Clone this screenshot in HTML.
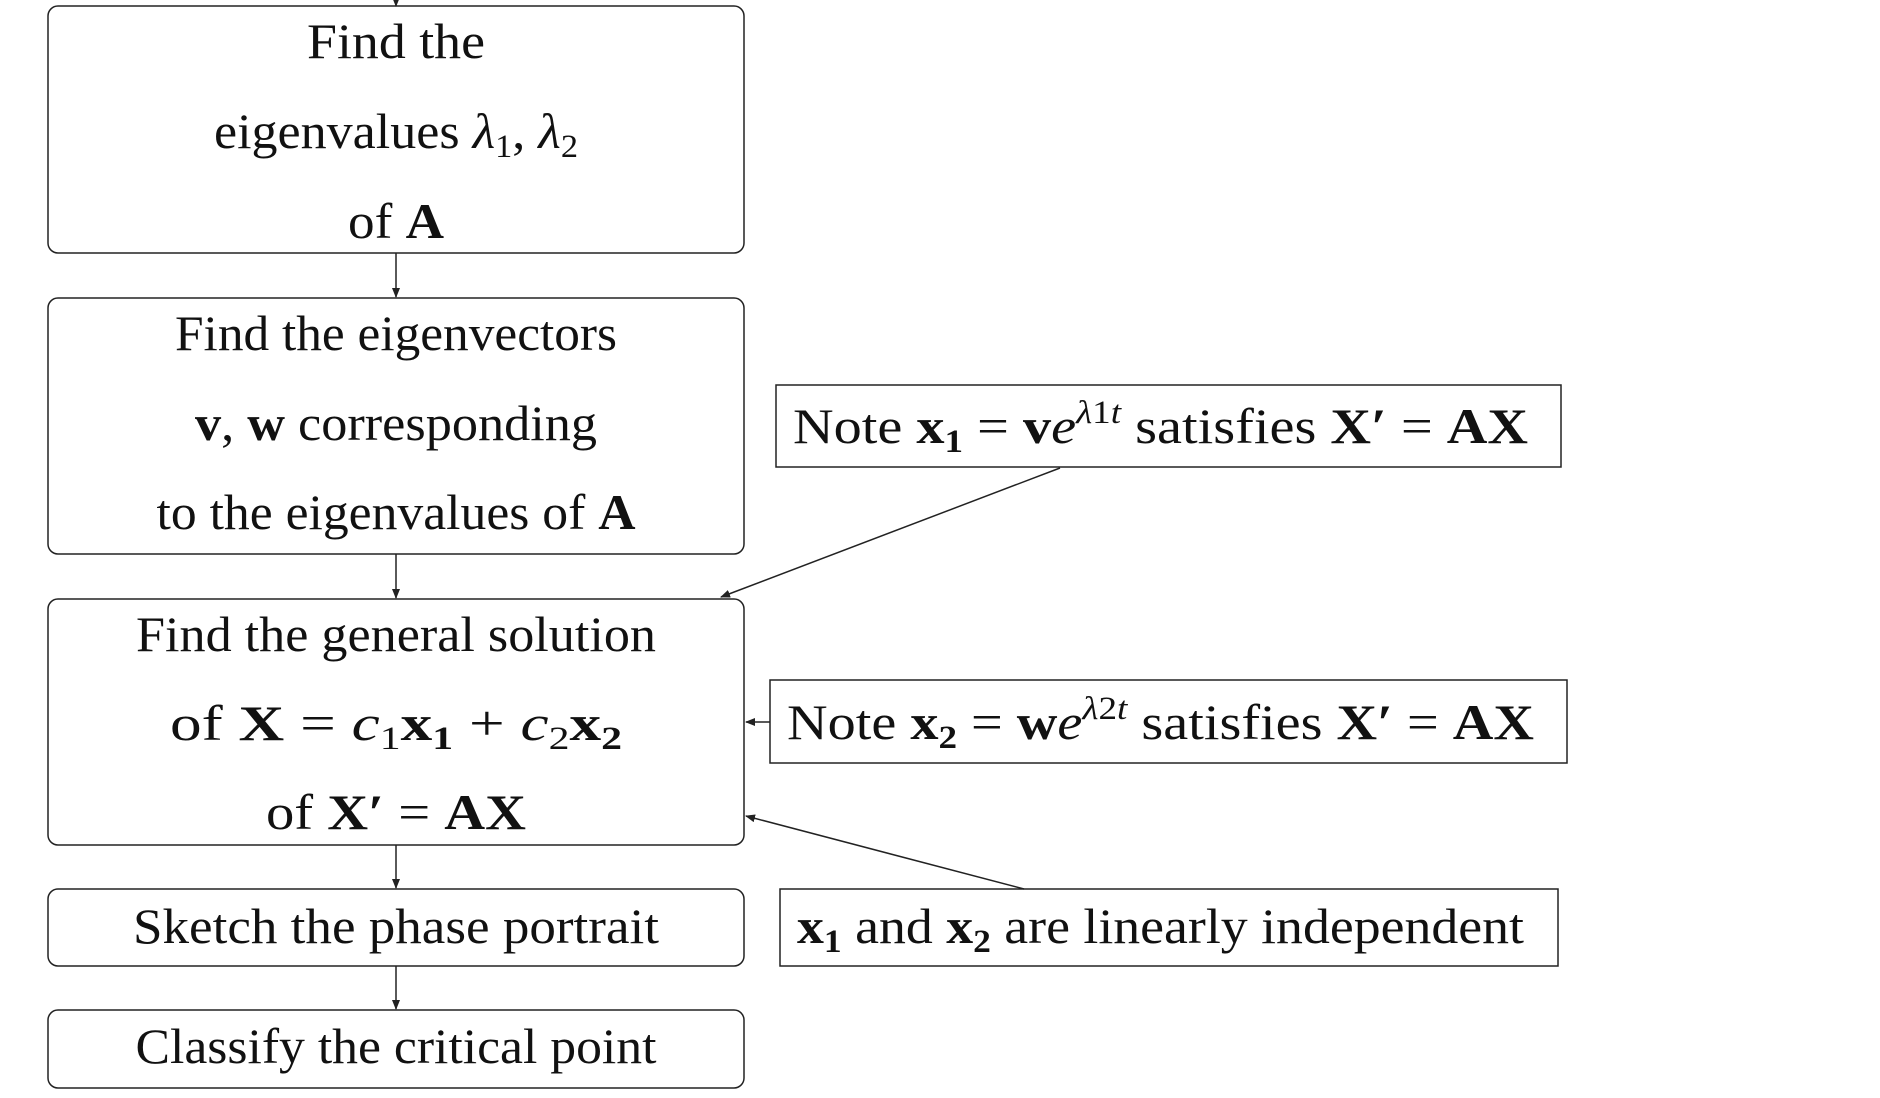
<!DOCTYPE html>
<html><head><meta charset="utf-8"><style>
html,body{margin:0;padding:0;background:#fff;}
svg{display:block;}
text{font-family:"Liberation Serif",serif;font-size:50px;fill:#111;}
.b{font-weight:bold;}
.i{font-style:italic;}
.s{font-size:33px;}
</style></head><body>
<svg width="1880" height="1098" viewBox="0 0 1880 1098" xmlns="http://www.w3.org/2000/svg">
<defs><marker id="a" markerWidth="10" markerHeight="8" refX="9" refY="4" orient="auto" markerUnits="userSpaceOnUse"><path d="M0,0 L10,4 L0,8 z" fill="#222"/></marker></defs>
<g fill="none" stroke="#222" stroke-width="1.5">
<rect x="48" y="6" width="696" height="247" rx="10"/>
<rect x="48" y="298" width="696" height="256" rx="10"/>
<rect x="48" y="599" width="696" height="246" rx="10"/>
<rect x="48" y="889" width="696" height="77" rx="10"/>
<rect x="48" y="1010" width="696" height="78" rx="10"/>
<rect x="776" y="385" width="785" height="82"/>
<rect x="770" y="680" width="797" height="83"/>
<rect x="780" y="889" width="778" height="77"/>
<line x1="396" y1="0" x2="396" y2="6" marker-end="url(#a)"/>
<line x1="396" y1="253" x2="396" y2="297" marker-end="url(#a)"/>
<line x1="396" y1="554" x2="396" y2="598" marker-end="url(#a)"/>
<line x1="396" y1="845" x2="396" y2="888" marker-end="url(#a)"/>
<line x1="396" y1="966" x2="396" y2="1009" marker-end="url(#a)"/>
<line x1="1060" y1="468" x2="721" y2="597" marker-end="url(#a)"/>
<line x1="770" y1="722" x2="746" y2="722" marker-end="url(#a)"/>
<line x1="1024" y1="889" x2="746" y2="816" marker-end="url(#a)"/>
</g>
<g text-anchor="middle">
<text x="396" y="58" textLength="178" lengthAdjust="spacingAndGlyphs">Find the</text>
<text x="396" y="148" textLength="364" lengthAdjust="spacingAndGlyphs">eigenvalues <tspan class="i">λ</tspan><tspan class="s" dy="9">1</tspan><tspan dy="-9">, </tspan><tspan class="i">λ</tspan><tspan class="s" dy="9">2</tspan></text>
<text x="396" y="238" textLength="96" lengthAdjust="spacingAndGlyphs">of <tspan class="b">A</tspan></text>
<text x="396" y="350" textLength="442" lengthAdjust="spacingAndGlyphs">Find the eigenvectors</text>
<text x="396" y="440" textLength="402" lengthAdjust="spacingAndGlyphs"><tspan class="b">v</tspan>, <tspan class="b">w</tspan> corresponding</text>
<text x="396" y="529" textLength="479" lengthAdjust="spacingAndGlyphs">to the eigenvalues of <tspan class="b">A</tspan></text>
<text x="396" y="651" textLength="520" lengthAdjust="spacingAndGlyphs">Find the general solution</text>
<text x="396" y="740" textLength="452" lengthAdjust="spacingAndGlyphs">of <tspan class="b">X</tspan>  =  <tspan class="i">c</tspan><tspan class="s" dy="9">1</tspan><tspan class="b" dy="-9">x</tspan><tspan class="s b" dy="9">1</tspan><tspan dy="-9"> + </tspan><tspan class="i">c</tspan><tspan class="s" dy="9">2</tspan><tspan class="b" dy="-9">x</tspan><tspan class="s b" dy="9">2</tspan></text>
<text x="396" y="829" textLength="260" lengthAdjust="spacingAndGlyphs">of <tspan class="b">X′</tspan> = <tspan class="b">AX</tspan></text>
<text x="396" y="943" textLength="526" lengthAdjust="spacingAndGlyphs">Sketch the phase portrait</text>
<text x="396" y="1063" textLength="521" lengthAdjust="spacingAndGlyphs">Classify the critical point</text>
</g>
<text x="793" y="443" textLength="735" lengthAdjust="spacingAndGlyphs">Note <tspan class="b">x</tspan><tspan class="s b" dy="9">1</tspan><tspan dy="-9"> = </tspan><tspan class="b">v</tspan><tspan class="i">e</tspan><tspan class="s i" dy="-20">λ</tspan><tspan class="s">1</tspan><tspan class="s i">t</tspan><tspan dy="20"> satisfies </tspan><tspan class="b">X′</tspan> = <tspan class="b">AX</tspan></text>
<text x="787" y="739" textLength="747" lengthAdjust="spacingAndGlyphs">Note <tspan class="b">x</tspan><tspan class="s b" dy="9">2</tspan><tspan dy="-9"> = </tspan><tspan class="b">w</tspan><tspan class="i">e</tspan><tspan class="s i" dy="-20">λ</tspan><tspan class="s">2</tspan><tspan class="s i">t</tspan><tspan dy="20"> satisfies </tspan><tspan class="b">X′</tspan> = <tspan class="b">AX</tspan></text>
<text x="797" y="943" textLength="727" lengthAdjust="spacingAndGlyphs"><tspan class="b">x</tspan><tspan class="s b" dy="9">1</tspan><tspan dy="-9"> and </tspan><tspan class="b">x</tspan><tspan class="s b" dy="9">2</tspan><tspan dy="-9"> are linearly independent</tspan></text>
</svg>
</body></html>
